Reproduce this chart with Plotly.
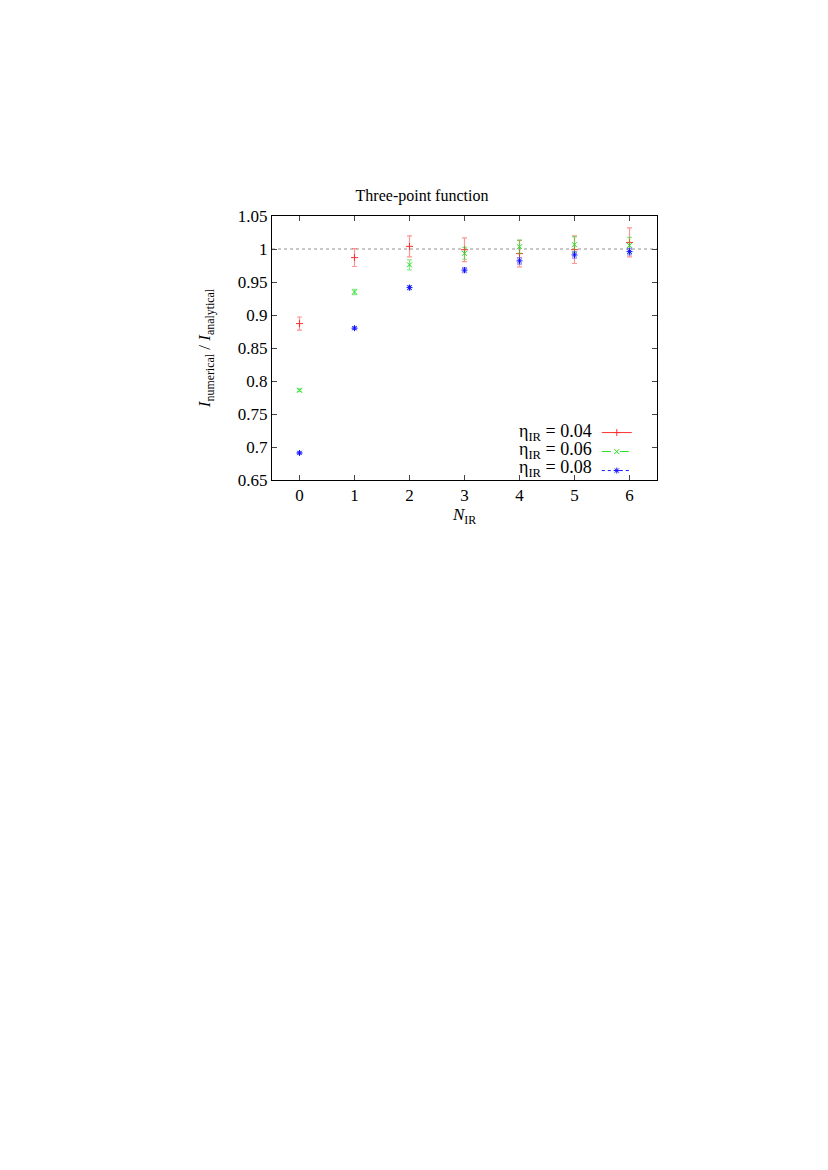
import plotly.graph_objects as go

# --- data ---
n_ir = [0, 1, 2, 3, 4, 5, 6]

eta_labels = ["0.04", "0.06", "0.08"]

ratio_004 = [0.887, 0.987, 1.004, 0.999, 0.993, 0.999, 1.010]
err_004 = [0.010, 0.0135, 0.016, 0.018, 0.020, 0.021, 0.022]

ratio_006 = [0.786, 0.935, 0.976, 0.9935, 1.0035, 1.0065, 1.0055]
err_006 = [0.002, 0.004, 0.0075, 0.009, 0.010, 0.012, 0.012]

ratio_008 = [0.691, 0.880, 0.9415, 0.968, 0.982, 0.991, 0.996]
err_008 = [0.0015, 0.002, 0.003, 0.004, 0.005, 0.005, 0.005]

ytick_vals = [0.65, 0.7, 0.75, 0.8, 0.85, 0.9, 0.95, 1.0, 1.05]
ytick_text = ["0.65", "0.7", "0.75", "0.8", "0.85", "0.9", "0.95", "1", "1.05"]

FONT = "Liberation Serif"

series = [
    (ratio_004, err_004, "#ff3030", "rgba(255,60,60,0.55)", "cross-thin", "solid"),
    (ratio_006, err_006, "#22dd22", "rgba(40,220,40,0.55)", "x-thin", "dash"),
    (ratio_008, err_008, "#1010ff", "rgba(40,40,255,0.5)", "asterisk", "dot"),
]

fig = go.Figure()

for (vals, errs, col, errcol, sym, dash), lab in zip(series, eta_labels):
    fig.add_trace(go.Scatter(
        x=n_ir, y=vals, mode="markers", showlegend=False,
        marker=dict(symbol=sym, size=5, color=col, line=dict(width=1, color=col)),
        error_y=dict(type="data", array=errs, visible=True, color=errcol,
                     thickness=1.2, width=2.5),
    ))
    # legend-only sample (gnuplot style: text on the left, sample on the right)
    fig.add_trace(go.Scatter(
        x=[None], y=[None], mode="lines+markers", name=" ",
        line=dict(color=col, width=1, dash=dash),
        marker=dict(symbol=sym, size=5, color=col, line=dict(width=1, color=col)),
    ))

fig.add_hline(y=1.0, line=dict(color="#777777", width=0.8, dash="dot"), layer="below")

legend_y = [0.1816, 0.1135, 0.0454]
for lab, ly in zip(eta_labels, legend_y):
    fig.add_annotation(
        text="η<sub>IR</sub> = " + lab, xref="paper", yref="paper",
        x=0.836, y=ly, xanchor="right", yanchor="middle", showarrow=False,
        font=dict(family=FONT, size=18, color="black"),
    )

fig.update_layout(
    width=828, height=1170,
    margin=dict(l=264, r=179, t=208, b=698),
    paper_bgcolor="white", plot_bgcolor="white",
    font=dict(family=FONT, size=17, color="black"),
    title=dict(text="Three-point function", x=0.5, xanchor="center",
               y=(1170 - 187) / 1170, yref="container", yanchor="middle",
               font=dict(family=FONT, size=16, color="black")),
    legend=dict(x=0.8436, y=0.2346, xanchor="left", yanchor="top",
                bgcolor="rgba(0,0,0,0)", font=dict(family=FONT, size=10),
                tracegroupgap=0),
)

fig.update_xaxes(
    range=[-0.5, 6.5], tickvals=n_ir, ticks="inside", ticklen=5,
    showline=True, linecolor="black", linewidth=1, mirror="ticks",
    showgrid=False, zeroline=False,
    tickfont=dict(family=FONT, size=17),
    title=dict(text="<i>N</i><sub>IR</sub>", font=dict(family=FONT, size=17), standoff=1),
)
fig.update_yaxes(
    range=[0.65, 1.05], tickvals=ytick_vals, ticktext=ytick_text,
    ticks="inside", ticklen=5,
    showline=True, linecolor="black", linewidth=1, mirror="ticks",
    showgrid=False, zeroline=False,
    tickfont=dict(family=FONT, size=17),
    title=dict(text="<i>I</i><sub>numerical</sub> / <i>I</i><sub>analytical</sub>",
               font=dict(family=FONT, size=17), standoff=22),
)

fig.write_html("out.html")
